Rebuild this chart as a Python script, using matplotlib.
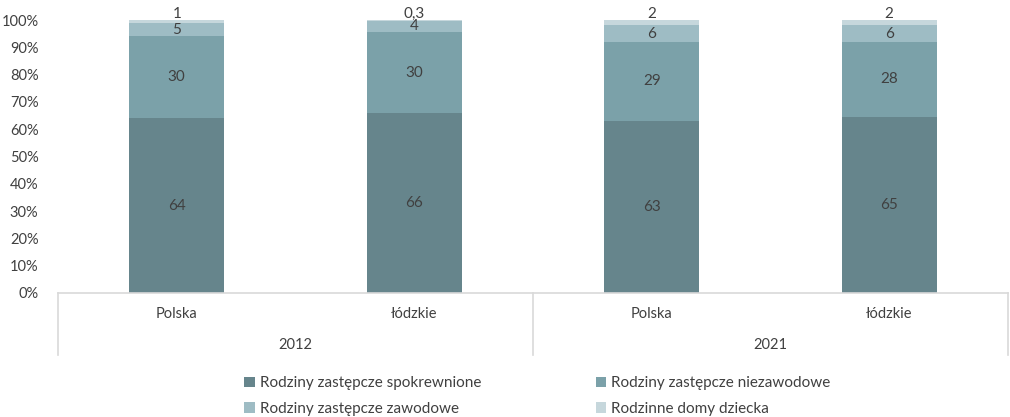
import matplotlib
matplotlib.use("Agg")
import matplotlib.pyplot as plt
import matplotlib.transforms as mtransforms
from matplotlib.patches import Patch
import numpy as np

plt.rcParams['font.family'] = ['Lato', 'DejaVu Sans']

regions = ['Polska', 'łódzkie', 'Polska', 'łódzkie']
years = ['2012', '2021']
series = ['Rodziny zastępcze spokrewnione', 'Rodziny zastępcze niezawodowe',
          'Rodziny zastępcze zawodowe', 'Rodzinne domy dziecka']
spokrewnione = [64, 66, 63, 65]
niezawodowe = [30, 30, 29, 28]
zawodowe = [5, 4, 6, 6]
domy = [1, 0.3, 2, 2]
labels_domy = ['1', '0,3', '2', '2']

colors = ['#66858c', '#7ba1a9', '#9ebcc4', '#c6d7dc']
txt = '#404040'

data = np.array([spokrewnione, niezawodowe, zawodowe, domy], dtype=float)
share = data / data.sum(axis=0) * 100

fig = plt.figure(figsize=(10.1, 4.17), dpi=100)
ax = fig.add_axes([0.0574, 0.2974, 0.9406, 0.6546])

x = np.arange(len(regions))
bottom = np.zeros(len(regions))
for k in range(4):
    ax.bar(x, share[k], 0.4, bottom=bottom, color=colors[k], label=series[k], zorder=2)
    for i in range(len(regions)):
        if k < 3:
            ax.text(x[i], bottom[i] + share[k][i] / 2, f'{data[k][i]:g}', ha='center',
                    va='center', fontsize=11, color=txt)
        else:
            ax.text(x[i], 99.8, labels_domy[i], ha='center', va='bottom',
                    fontsize=11, color=txt)
    bottom += share[k]

ax.set_xlim(-0.5, 3.5)
ax.set_ylim(0, 100)
ax.set_yticks(np.arange(0, 101, 10))
ax.set_yticklabels([f'{v}%' for v in range(0, 101, 10)])
ax.set_xticks(x)
ax.set_xticklabels(regions)
ax.tick_params(axis='both', length=0, labelsize=10.5, colors=txt)
ax.tick_params(axis='x', pad=10)
ax.tick_params(axis='y', pad=14)
for s in ['top', 'right', 'left']:
    ax.spines[s].set_visible(False)
ax.spines['bottom'].set_color('#d9d9d9')
ax.spines['bottom'].set_linewidth(1.2)

trans = mtransforms.blended_transform_factory(ax.transData, ax.transAxes)
for xs in [-0.5, 1.5, 3.5]:
    ax.plot([xs, xs], [0, -0.227], color='#d9d9d9', lw=1.2, transform=trans, clip_on=False)
for j, yr in enumerate(years):
    ax.text(2 * j + 0.5, -0.19, yr, ha='center', va='center', fontsize=10.5,
            color=txt, transform=trans)

# legend fills column-first, so reorder to get row-wise layout
order = [0, 2, 1, 3]
handles = [Patch(facecolor=colors[k], label=series[k]) for k in order]
leg = fig.legend(handles=handles, ncol=2, loc='center', bbox_to_anchor=(0.532, 0.05),
                 frameon=False, fontsize=11, handlelength=0.7, handleheight=0.7,
                 handletextpad=0.3, columnspacing=7.5, labelspacing=0.75)
for t in leg.get_texts():
    t.set_color(txt)

fig.savefig('out.png', dpi=100)
